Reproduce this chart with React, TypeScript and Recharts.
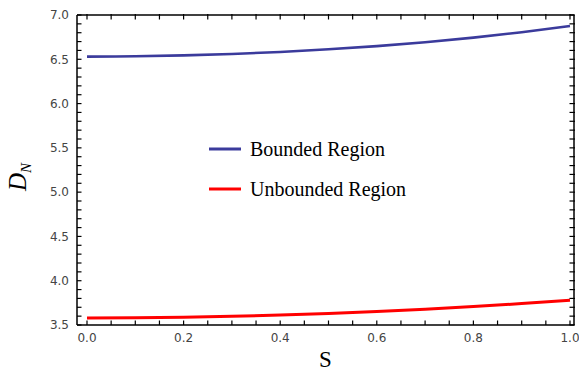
import React from 'react';
import { LineChart, Line, XAxis, YAxis, Legend } from 'recharts';

const sValues = [0, 0.1, 0.2, 0.3, 0.4, 0.5, 0.6, 0.7, 0.8, 0.9, 1.0];
const boundedValues = [6.53, 6.534, 6.544, 6.56, 6.583, 6.613, 6.649, 6.693, 6.745, 6.806, 6.876];
const unboundedValues = [3.58, 3.582, 3.588, 3.598, 3.612, 3.63, 3.652, 3.678, 3.708, 3.742, 3.78];
const seriesNames = ['Bounded Region', 'Unbounded Region'];
const seriesColors = ['#3b3b9c', '#ff0000'];

const xTickValues = [0, 0.05, 0.1, 0.15, 0.2, 0.25, 0.3, 0.35, 0.4, 0.45, 0.5, 0.55, 0.6, 0.65, 0.7, 0.75, 0.8, 0.85, 0.9, 0.95, 1.0];
const yTickValues = [3.5, 3.6, 3.7, 3.8, 3.9, 4.0, 4.1, 4.2, 4.3, 4.4, 4.5, 4.6, 4.7, 4.8, 4.9, 5.0, 5.1, 5.2, 5.3, 5.4, 5.5, 5.6, 5.7, 5.8, 5.9, 6.0, 6.1, 6.2, 6.3, 6.4, 6.5, 6.6, 6.7, 6.8, 6.9, 7.0];
const xDomain: [number, number] = [-0.0207, 1.0083];
const yDomain: [number, number] = [3.5, 7.0];

const data = sValues.map((s, i) => ({ s, bounded: boundedValues[i], unbounded: unboundedValues[i] }));

const isMajor = (v: number, step: number) => Math.abs(v / step - Math.round(v / step)) < 1e-6;
const tickFont = { fontFamily: 'DejaVu Sans', fontSize: 12, fill: '#444' };
const axisLineStyle = { stroke: '#000', strokeWidth: 1.5 };
const tickLineStyle = { stroke: '#000', strokeWidth: 1.2 };
const TICK = -4.5;

const renderLegend = (props: any) => {
  const { payload } = props;
  return (
    <div>
      {(payload || []).map((entry: any) => (
        <div key={entry.value} style={{ display: 'flex', alignItems: 'center', height: 40 }}>
          <svg width={32} height={6} style={{ display: 'block' }}>
            <line x1={0} x2={32} y1={3} y2={3} stroke={entry.color} strokeWidth={3} />
          </svg>
          <span style={{ marginLeft: 9, fontFamily: 'Liberation Serif', fontSize: 20, color: '#000', lineHeight: '20px' }}>
            {entry.value}
          </span>
        </div>
      ))}
    </div>
  );
};

export default function App() {
  return (
    <div style={{ position: 'absolute', left: 0, top: 0, width: 579, height: 379, background: '#fff' }}>
      <LineChart width={579} height={379} data={data} margin={{ top: 0, right: 0, left: 0, bottom: 0 }}>
        <XAxis
          xAxisId="bottom"
          dataKey="s"
          type="number"
          domain={xDomain}
          ticks={xTickValues}
          allowDataOverflow
          height={54}
          tickSize={TICK}
          tickMargin={12.5}
          tickLine={tickLineStyle}
          axisLine={axisLineStyle}
          tick={tickFont}
          tickFormatter={(v: number) => (isMajor(v, 0.2) ? v.toFixed(1) : '')}
          interval={0}
          label={{ value: 'S', position: 'insideBottom', offset: 12, style: { fontFamily: 'Liberation Serif', fontSize: 23, fill: '#000' } }}
        />
        <XAxis
          xAxisId="topFrame"
          orientation="top"
          dataKey="s"
          type="number"
          domain={xDomain}
          allowDataOverflow
          height={1}
          tickLine={false}
          axisLine={axisLineStyle}
          tick={false}
        />
        <XAxis
          xAxisId="topTicks"
          orientation="top"
          dataKey="s"
          type="number"
          domain={xDomain}
          ticks={xTickValues}
          allowDataOverflow
          height={14}
          tickSize={-5.5}
          tickLine={tickLineStyle}
          axisLine={false}
          tick={{ fill: 'none', fontSize: 1 }}
          tickFormatter={() => ''}
          interval={0}
        />
        <YAxis
          yAxisId="left"
          type="number"
          domain={yDomain}
          ticks={yTickValues}
          allowDataOverflow
          width={77}
          tickSize={TICK}
          tickMargin={12.5}
          tickLine={tickLineStyle}
          axisLine={axisLineStyle}
          tick={tickFont}
          tickFormatter={(v: number) => (isMajor(v, 0.5) ? v.toFixed(1) : '')}
          interval={0}
        />
        <YAxis
          yAxisId="rightFrame"
          orientation="right"
          type="number"
          domain={yDomain}
          allowDataOverflow
          width={1}
          tickLine={false}
          axisLine={axisLineStyle}
          tick={false}
        />
        <YAxis
          yAxisId="rightTicks"
          orientation="right"
          type="number"
          domain={yDomain}
          ticks={yTickValues}
          allowDataOverflow
          width={4}
          tickSize={-5.5}
          tickLine={tickLineStyle}
          axisLine={false}
          tick={{ fill: 'none', fontSize: 1 }}
          tickFormatter={() => ''}
          interval={0}
        />
        <Legend
          layout="vertical"
          align="center"
          verticalAlign="middle"
          wrapperStyle={{ left: 209, top: 129, width: 'auto' }}
          content={renderLegend}
        />
        <Line
          xAxisId="bottom"
          yAxisId="left"
          type="monotone"
          dataKey="bounded"
          name={seriesNames[0]}
          stroke={seriesColors[0]}
          strokeWidth={2.6}
          dot={false}
          isAnimationActive={false}
        />
        <Line
          xAxisId="topFrame"
          yAxisId="rightFrame"
          type="monotone"
          dataKey="unbounded"
          name={seriesNames[1]}
          stroke={seriesColors[1]}
          strokeWidth={3}
          dot={false}
          isAnimationActive={false}
        />
      </LineChart>
      <div
        style={{
          position: 'absolute',
          left: 22,
          top: 177,
          transform: 'translate(-50%, -50%) rotate(-90deg)',
          fontFamily: 'Liberation Serif',
          fontStyle: 'italic',
          fontSize: 25,
          lineHeight: '25px',
          whiteSpace: 'nowrap',
          color: '#000',
        }}
      >
        D<sub style={{ fontSize: 15, verticalAlign: '-5px' }}>N</sub>
      </div>
    </div>
  );
}
